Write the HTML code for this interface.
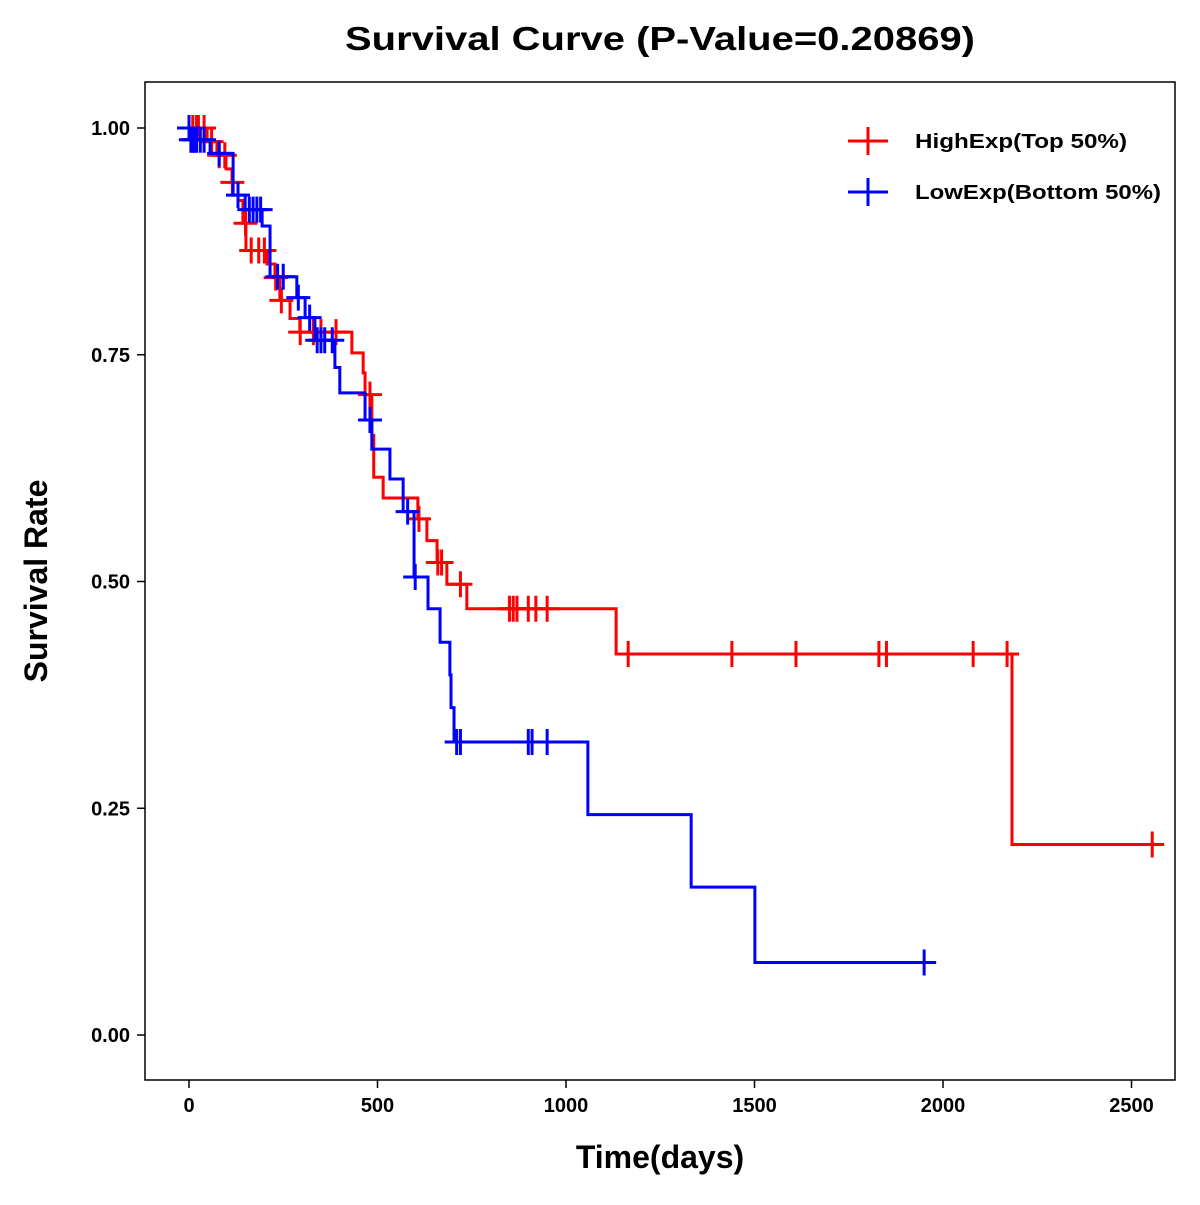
<!DOCTYPE html>
<html><head><meta charset="utf-8"><style>
body{margin:0;background:#fff;}
svg text{font-family:"Liberation Sans",Arial,sans-serif;font-weight:bold;}
</style></head><body>
<svg id="chart" width="1200" height="1200" viewBox="0 0 1200 1200" xmlns="http://www.w3.org/2000/svg">
<rect width="1200" height="1200" fill="#fff"/>
<text x="660" y="50" text-anchor="middle" font-size="33" textLength="630" lengthAdjust="spacingAndGlyphs">Survival Curve (P-Value=0.20869)</text>
<rect x="145" y="82" width="1030" height="998" fill="none" stroke="#000" stroke-width="1.5"/>
<g id="axes"></g>
<g id="series"></g>
<text x="660" y="1168" text-anchor="middle" font-size="32">Time(days)</text>
<text transform="translate(47,581) rotate(-90)" text-anchor="middle" font-size="32">Survival Rate</text>
<g>
<g>
<line x1="848" y1="141" x2="888" y2="141" stroke="#f00" stroke-width="3"/><line x1="868" y1="127" x2="868" y2="155" stroke="#f00" stroke-width="3"/>
<text x="915" y="148" font-size="20" textLength="212" lengthAdjust="spacingAndGlyphs">HighExp(Top 50%)</text></g>
<g>
<line x1="848" y1="192" x2="888" y2="192" stroke="#00f" stroke-width="3"/><line x1="868" y1="178" x2="868" y2="206" stroke="#00f" stroke-width="3"/>
<text x="915" y="199" font-size="20" textLength="246" lengthAdjust="spacingAndGlyphs">LowExp(Bottom 50%)</text></g>
</g>
</svg>
<script>
const xTicks=[0,500,1000,1500,2000,2500];
const yTicks=[0,0.25,0.5,0.75,1.0];
const yTickLabels=["0.00","0.25","0.50","0.75","1.00"];
const highTimes=[0,48,74,98,114,130,143,151,207,228,241,268,294,432,462,467,485,490,515,607,631,658,684,737,1133,2183];
const highSurv=[1,0.985,0.97,0.955,0.94,0.92,0.895,0.865,0.85,0.835,0.81,0.79,0.775,0.752,0.73,0.706,0.661,0.615,0.592,0.569,0.545,0.521,0.497,0.470,0.420,0.210];
const highEnd=2583;
const highCensor=[10,20,25,40,60,80,95,115,150,165,185,200,230,245,295,330,350,390,480,610,660,670,720,850,860,870,900,920,950,1165,1440,1610,1830,1850,2080,2170,2555];
const lowTimes=[0,3,56,117,149,194,215,286,308,334,387,400,467,485,533,568,597,634,666,692,695,703,1058,1332,1501];
const lowSurv=[1,0.987,0.972,0.926,0.910,0.892,0.836,0.813,0.791,0.766,0.736,0.708,0.678,0.646,0.613,0.577,0.505,0.470,0.433,0.397,0.361,0.323,0.243,0.163,0.080];
const lowEnd=1960;
const lowCensor=[0,5,10,15,20,30,40,80,130,160,170,180,190,235,250,290,320,340,350,360,380,480,580,600,710,720,900,910,950,1950];

const NS="http://www.w3.org/2000/svg";
const xs=t=>189+t*0.377;
const ys=s=>1035-s*907;
function mk(tag,attrs,parent){const e=document.createElementNS(NS,tag);for(const k in attrs)e.setAttribute(k,attrs[k]);parent.appendChild(e);return e;}
const axes=document.getElementById('axes');
xTicks.forEach(v=>{
  const l=mk('line',{x1:xs(v),x2:xs(v),y1:1080,y2:1088,stroke:'#000','stroke-width':1.5},axes);
  
  
  const t=mk('text',{x:xs(v),y:1112,'text-anchor':'middle','font-size':20},axes);t.textContent=v;
  
  
});
yTicks.forEach((v,i)=>{
  const l=mk('line',{x1:137,x2:145,y1:ys(v),y2:ys(v),stroke:'#000','stroke-width':1.5},axes);
  
  
  const t=mk('text',{x:130,y:ys(v)+7,'text-anchor':'end','font-size':20},axes);t.textContent=yTickLabels[i];
  
  
});
function survAt(times,surv,t){let s=surv[0];for(let i=0;i<times.length;i++){if(times[i]<=t)s=surv[i];}return s;}
const series=document.getElementById('series');
function draw(times,surv,end,cens,color,name){
  let d='M'+xs(times[0])+','+ys(surv[0]);
  for(let i=1;i<times.length;i++){d+=' H'+xs(times[i])+' V'+ys(surv[i]);}
  d+=' H'+xs(end);
  const p=mk('path',{d:d,fill:'none',stroke:color,'stroke-width':3},series);
  
  
  cens.forEach(c=>{
    const x=xs(c),y=ys(survAt(times,surv,c));
    const g=mk('path',{d:`M${x-12},${y} H${x+12} M${x},${y-13} V${y+13}`,stroke:color,'stroke-width':3,fill:'none'},series);
    
    
  });
}
draw(highTimes,highSurv,highEnd,highCensor,'#f00','high-exp');
draw(lowTimes,lowSurv,lowEnd,lowCensor,'#00f','low-exp');
</script>
</body></html>
